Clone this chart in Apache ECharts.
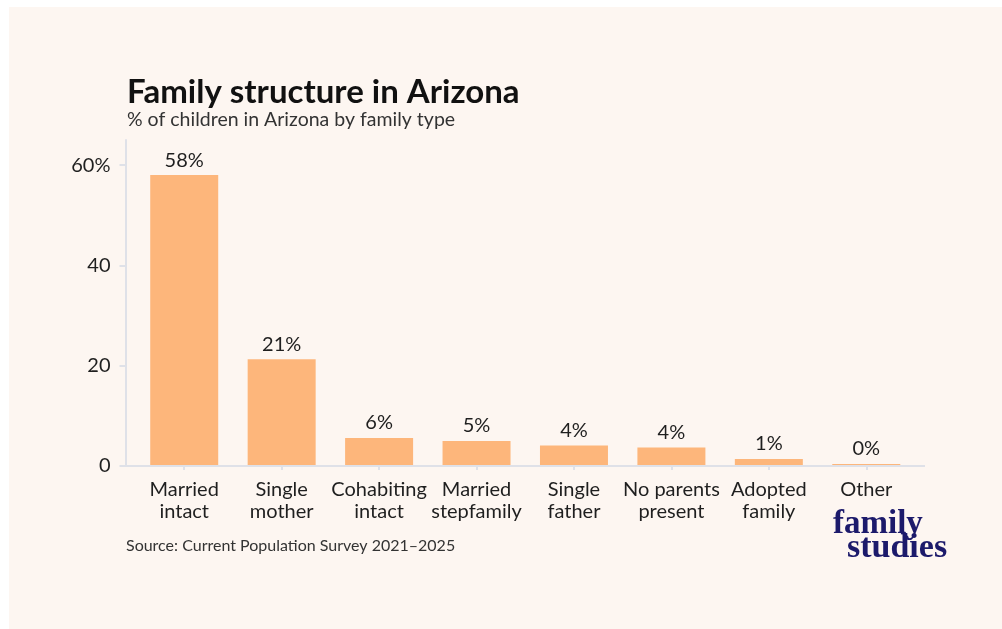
<!DOCTYPE html>
<html>
<head>
<meta charset="utf-8">
<script src="https://cdn.jsdelivr.net/npm/echarts@6/dist/echarts.min.js"></script>
<style>
  html, body { margin: 0; padding: 0; background: #ffffff; }
  #chart { position: absolute; left: 9px; top: 7px; width: 993px; height: 622px; background: #fdf6f1; }
</style>
</head>
<body>
<div id="chart"></div>
<script>
// Share of children in Arizona by family type (CPS 2021–2025)
const categories = [
  'Married\nintact', 'Single\nmother', 'Cohabiting\nintact', 'Married\nstepfamily',
  'Single\nfather', 'No parents\npresent', 'Adopted\nfamily', 'Other'
];
const shares = [58.0, 21.3, 5.6, 5.0, 4.1, 3.7, 1.4, 0.4];
const yTicks = [0, 20, 40, 60];

const FONT = 'Lato, "Noto Sans", sans-serif';
const INK = '#1f1f1f';
const RULE = '#dfe1e8';

const chart = echarts.init(document.getElementById('chart'), null, { renderer: 'canvas' });

// the chart div is offset by (9,7); grid values are relative to it
const option = {
  animation: false,
  backgroundColor: '#fdf6f1',
  title: [
    {
      text: 'Family structure in Arizona',
      left: 113, top: 64,
      textStyle: { fontFamily: FONT, fontWeight: 'bold', fontSize: 33, color: '#111' }
    },
    {
      text: '% of children in Arizona by family type',
      left: 113, top: 98,
      textStyle: { fontFamily: FONT, fontWeight: 'normal', fontSize: 19.5, color: '#333' }
    },
    {
      text: 'Source: Current Population Survey 2021\u20132025',
      left: 112, top: 526,
      textStyle: { fontFamily: FONT, fontWeight: 'normal', fontSize: 16, color: '#333' }
    }
  ],
  grid: { left: 126.5, right: 87, top: 133, bottom: 163 },
  xAxis: {
    type: 'category',
    data: categories,
    axisLine: { show: false },
    axisTick: { show: true, alignWithLabel: true, length: 4, lineStyle: { color: RULE, width: 2 } },
    axisLabel: {
      interval: 0, margin: 13,
      fontFamily: FONT, fontSize: 20, lineHeight: 22, color: INK
    }
  },
  yAxis: {
    type: 'value',
    min: 0, max: 65,
    offset: 10,
    splitLine: { show: false },
    axisLine: { show: true, lineStyle: { color: RULE, width: 2 } },
    axisTick: { show: true, length: 6, customValues: yTicks, lineStyle: { color: RULE, width: 2 } },
    axisLabel: {
      customValues: yTicks,
      margin: 15,
      fontFamily: FONT, fontSize: 20, color: INK,
      formatter: v => v === yTicks[yTicks.length - 1] ? v + '%' : String(v)
    }
  },
  series: [{
    type: 'bar',
    data: shares,
    barWidth: 68,
    itemStyle: { color: '#fdb67b' },
    label: {
      show: true, position: 'top', distance: 5,
      fontFamily: FONT, fontSize: 20, color: INK,
      formatter: p => Math.round(p.value) + '%'
    }
  }],
  graphic: []
};

chart.setOption(option);

// baseline rule, running a little past the category bands on each side
const baseY = chart.convertToPixel({ yAxisIndex: 0 }, 0);
const gridModel = chart.getModel().getComponent('grid', 0);
const rect = gridModel.coordinateSystem.getRect();
chart.setOption({
  graphic: [
    {
      type: 'line', silent: true, z: 5,
      shape: { x1: rect.x - 15, y1: baseY, x2: rect.x + rect.width + 10, y2: baseY },
      style: { stroke: RULE, lineWidth: 2 }
    },
    {
      type: 'text', left: 824, top: 501,
      style: { text: 'family', font: 'bold 33px "Liberation Serif", "DejaVu Serif", serif', fill: '#1c1a6b' }
    },
    {
      type: 'text', left: 838, top: 524,
      style: { text: 'studies', font: 'bold 34px "Liberation Serif", "DejaVu Serif", serif', fill: '#1c1a6b' }
    }
  ]
});
</script>
</body>
</html>
